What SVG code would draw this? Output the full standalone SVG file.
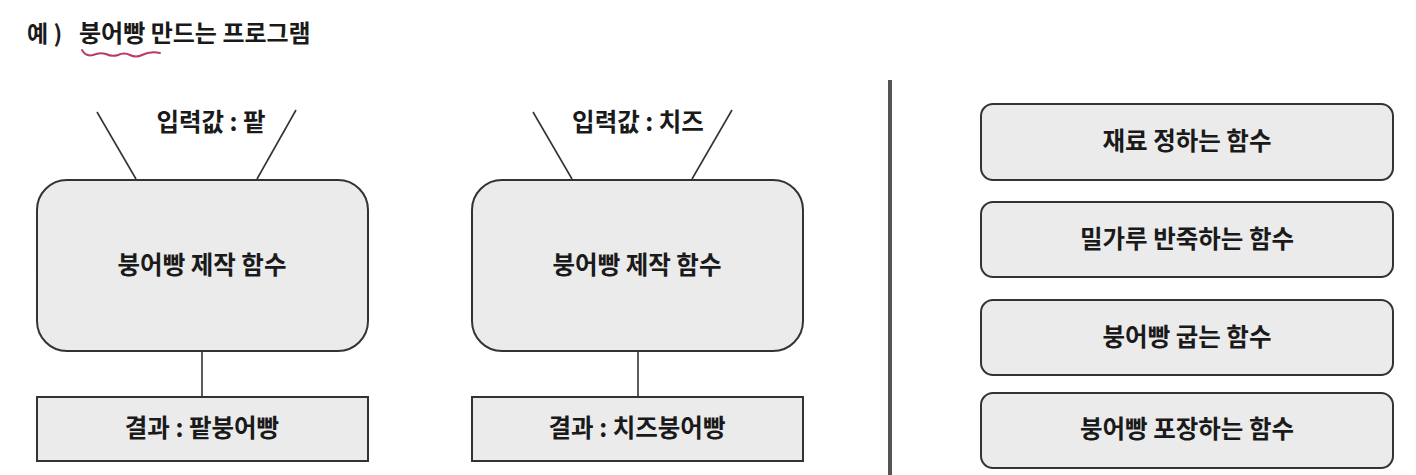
<svg xmlns="http://www.w3.org/2000/svg" width="1416" height="475" viewBox="0 0 1416 475">
<style>
text{font-family:"Noto Sans CJK KR","Noto Sans",sans-serif;font-weight:bold;fill:#1a1a1a;}
.lbl{font-size:24.5px;text-anchor:middle;}
.box{fill:#ebebec;stroke:#333;stroke-width:2;}
.ln{stroke:#333;stroke-width:1.6;fill:none;}
</style>
<rect width="1416" height="475" fill="#fff"/>
<g id="title">
<text x="27" y="42" font-size="23">예 )</text>
<text x="79" y="42" font-size="24">붕어빵 만드는 프로그램</text>
<path d="M82,50 Q86,57 93,55 Q100,52 106,54 Q112,57 118,55 Q124,52 130,55 Q136,58 142,55 Q150,51 160,53" fill="none" stroke="#b83c66" stroke-width="2" stroke-linecap="round"/>
</g>
<g id="connectors">
<line class="ln" x1="97" y1="112" x2="136" y2="179"/>
<line class="ln" x1="296" y1="110" x2="257" y2="179"/>
<line class="ln" x1="202" y1="352" x2="202" y2="397"/>
<line class="ln" x1="533" y1="112" x2="572" y2="179"/>
<line class="ln" x1="732" y1="110" x2="692" y2="179"/>
<line class="ln" x1="638" y1="352" x2="638" y2="397"/>
</g>
<g id="input1"><text class="lbl" x="211" y="131">입력값 : 팥</text></g>
<g id="func1"><rect class="box" x="37" y="180" width="331" height="171" rx="30"/><text class="lbl" x="202" y="274">붕어빵 제작 함수</text></g>
<g id="result1"><rect class="box" x="37" y="397" width="331" height="64"/><text class="lbl" x="202" y="437">결과 : 팥붕어빵</text></g>
<g id="input2"><text class="lbl" x="638" y="131">입력값 : 치즈</text></g>
<g id="func2"><rect class="box" x="472" y="180" width="331" height="171" rx="30"/><text class="lbl" x="637" y="274">붕어빵 제작 함수</text></g>
<g id="result2"><rect class="box" x="472" y="397" width="331" height="64"/><text class="lbl" x="637" y="437">결과 : 치즈붕어빵</text></g>
<g id="divider"><line x1="890" y1="80" x2="890" y2="475" stroke="#555" stroke-width="4"/></g>
<g id="f1"><rect class="box" x="981" y="104" width="412" height="76" rx="12"/><text class="lbl" x="1187" y="150">재료 정하는 함수</text></g>
<g id="f2"><rect class="box" x="981" y="202" width="412" height="75" rx="12"/><text class="lbl" x="1187" y="248">밀가루 반죽하는 함수</text></g>
<g id="f3"><rect class="box" x="981" y="300" width="412" height="75" rx="12"/><text class="lbl" x="1187" y="346">붕어빵 굽는 함수</text></g>
<g id="f4"><rect class="box" x="981" y="393" width="412" height="75" rx="12"/><text class="lbl" x="1187" y="438">붕어빵 포장하는 함수</text></g>
</svg>
